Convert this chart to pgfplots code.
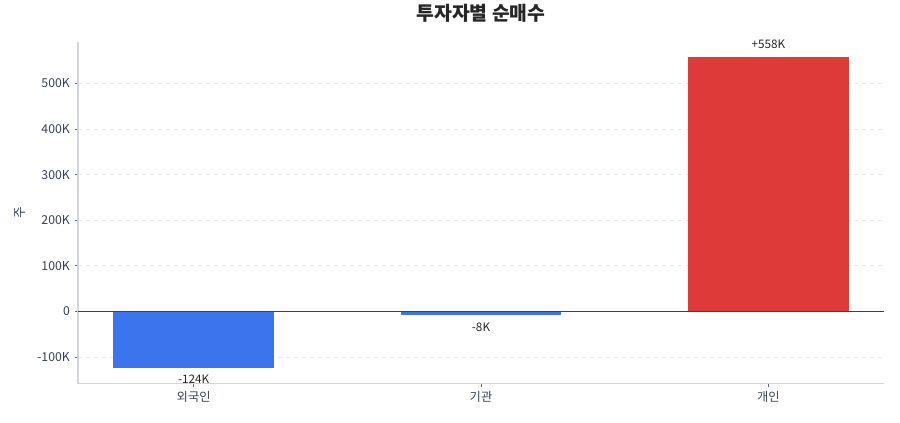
\documentclass[border=0pt]{standalone}
\usepackage{pgfplots}
\pgfplotsset{compat=1.18}
\usepackage{fontspec}
\setmainfont{Noto Sans CJK KR}
\definecolor{barblue}{HTML}{3B74EC}
\definecolor{barred}{HTML}{DF3A3A}
\definecolor{spine}{HTML}{D1D5DB}
\definecolor{gridc}{HTML}{E5E7EB}
\definecolor{textc}{HTML}{374151}
\definecolor{zeroc}{HTML}{374151}
\begin{document}
\begin{tikzpicture}
 \begin{axis}[
   scale only axis,
   width=604.5pt, height=256.5pt,
   xmin=-0.4025, xmax=2.4025,
   ymin=-158.1, ymax=592.1,
   ybar, bar width=0.56,
   axis x line*=bottom, axis y line*=left,
   axis line style={draw=spine, line width=0.8pt, -},
   xtick={0,1,2},
   xticklabels={외국인,기관,개인},
   ytick={-100,0,100,200,300,400,500},
   yticklabels={-100K,0,100K,200K,300K,400K,500K},
   tick align=outside,
   major tick length=2.6pt,
   tick style={draw=textc!80, line width=0.6pt},
   ymajorgrids,
   major grid style={dashed, draw=gridc, line width=0.6pt},
   ticklabel style={font=\fontsize{9.2}{11}\selectfont, text=textc},
   /pgf/number format/assume math mode=true,
   ylabel={주},
   ylabel style={at={(axis description cs:-0.072,0.5)}, anchor=center, font=\fontsize{9.5}{11}\selectfont, text=textc},
   title={투자자별 순매수},
   title style={at={(axis description cs:0.5,1)}, anchor=center, yshift=15pt, font=\fontsize{14.5}{17}\selectfont\bfseries, text=black!85},
   point meta=explicit symbolic,
   every node near coord/.append style={font=\fontsize{8.8}{10}\selectfont, text=black!85},
 ]
   \addplot[bar shift=0pt, fill=barblue, draw=none, nodes near coords,
     every node near coord/.append style={anchor=north, yshift=-2pt}]
     coordinates {(0,-124) [-124K]};
   \addplot[bar shift=0pt, fill=barblue, draw=none, nodes near coords,
     every node near coord/.append style={anchor=north, yshift=-2pt}]
     coordinates {(1,-8) [-8K]};
   \addplot[bar shift=0pt, fill=barred, draw=none, nodes near coords,
     every node near coord/.append style={anchor=south, yshift=3pt}]
     coordinates {(2,558) [+558K]};
   \addplot[sharp plot, no marks, draw=zeroc, line width=0.8pt]
     coordinates {(-0.4025,0) (2.4025,0)};
 \end{axis}
 \path[use as bounding box] (current axis.south west) ++(-58.5pt,-29.5pt) rectangle ++(675pt,315pt);
\end{tikzpicture}
\end{document}
